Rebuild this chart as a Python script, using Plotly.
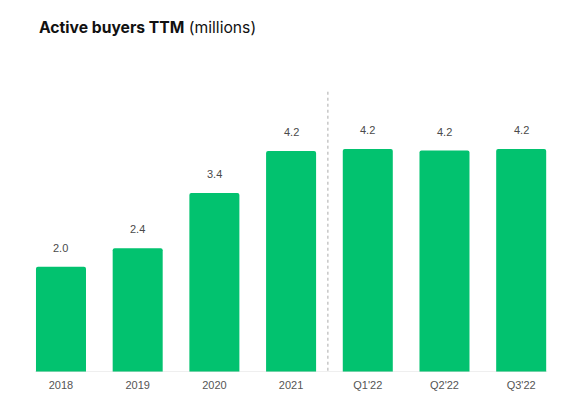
import plotly.graph_objects as go

# Active buyers, trailing twelve months (millions)
periods = ['2018', '2019', '2020', '2021', "Q1'22", "Q2'22", "Q3'22"]
buyers = [2.0, 2.35, 3.4, 4.2, 4.24, 4.21, 4.24]
labels = ['2.0', '2.4', '3.4', '4.2', '4.2', '4.2', '4.2']

GREEN = '#02C26F'
FONT = 'Liberation Sans, Arial, sans-serif'

# the page puts the plot 8px in from the top-left corner
W, H = 572, 406


def create_chart(output_html='out.html'):
    fig = go.Figure()

    fig.add_trace(go.Bar(
        x=list(range(len(periods))), y=buyers,
        marker=dict(color=GREEN, line=dict(width=0), cornerradius=2),
        width=0.652, hoverinfo='skip', showlegend=False,
    ))

    # value labels sitting above the bars
    for i, (v, t) in enumerate(zip(buyers, labels)):
        fig.add_annotation(x=i, y=v, text=t, showarrow=False,
                           yanchor='bottom', yshift=11,
                           font=dict(family=FONT, size=11, color='#4a4a4a'))

    # baseline under the bars
    fig.add_shape(type='line', xref='x', yref='y',
                  x0=-0.34, x1=len(periods) - 1 + 0.34, y0=0, y1=0,
                  line=dict(color='#e0e0e0', width=1.2))

    # dotted divider between years and quarters
    fig.add_shape(type='line', xref='x', yref='y',
                  x0=3.48, x1=3.48, y0=-0.09, y1=5.36,
                  line=dict(color='#aaaaaa', width=1, dash='dot'))

    fig.update_layout(
        width=W, height=H,
        margin=dict(l=22, r=22, t=72, b=42),
        paper_bgcolor='white', plot_bgcolor='white',
        title=dict(
            text='<b>Active buyers TTM</b> (millions)',
            xref='container', yref='container',
            x=31 / W, xanchor='left', y=1 - 20 / H, yanchor='middle',
            font=dict(family='Inter, sans-serif', size=15.7, color='#111111'),
        ),
        xaxis=dict(
            range=[-0.404, 6.48],
            tickmode='array', tickvals=list(range(len(periods))), ticktext=periods,
            showgrid=False, zeroline=False, showline=False, ticks='',
            ticklabelstandoff=5,
            tickfont=dict(family=FONT, size=11, color='#555555'),
        ),
        yaxis=dict(range=[0, 5.55], visible=False, showgrid=False, zeroline=False),
    )

    fig.write_html(output_html)
    return output_html


create_chart()
